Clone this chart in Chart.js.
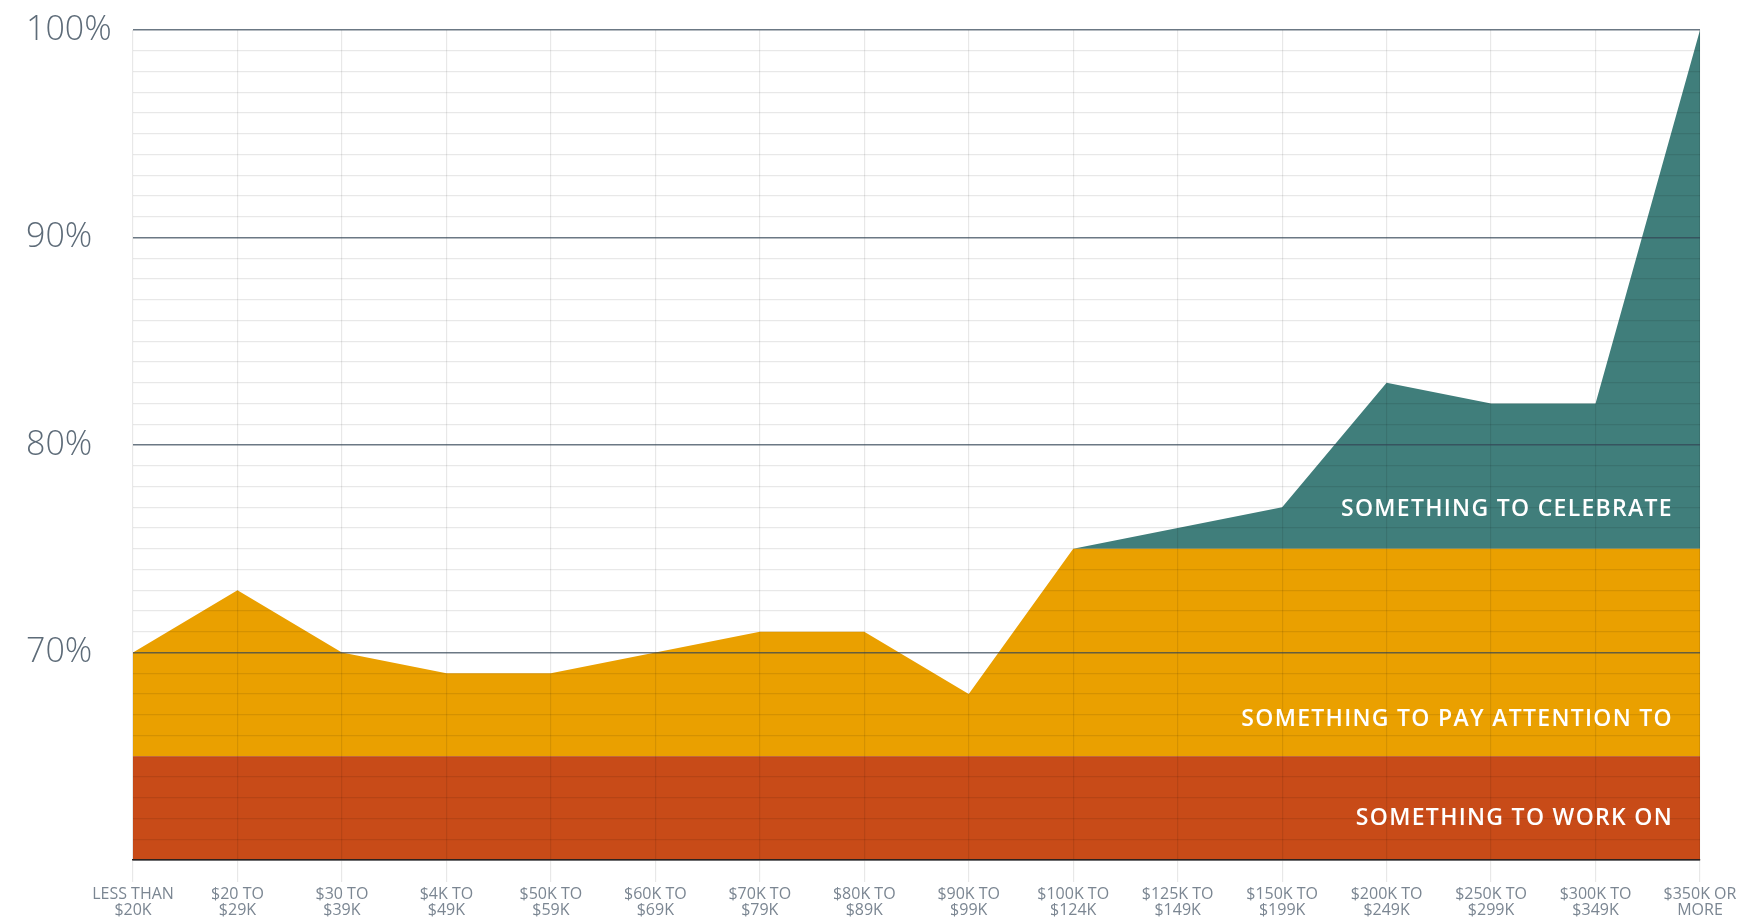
<!DOCTYPE html>
<html>
<head>
<meta charset="utf-8">
<script src="https://cdn.jsdelivr.net/npm/chart.js@4/dist/chart.umd.min.js"></script>
<style>
  html, body { margin: 0; padding: 0; background: #fff; }
  #wrap { width: 1742px; height: 918px; }
</style>
</head>
<body>
<div id="wrap"><canvas id="myChart" width="1742" height="918"></canvas></div>
<script>
const ingresos = [
    ["LESS THAN", "$20K"], ["$20 TO", "$29K"], ["$30 TO", "$39K"], ["$4K TO", "$49K"],
    ["$50K TO", "$59K"], ["$60K TO", "$69K"], ["$70K TO", "$79K"], ["$80K TO", "$89K"],
    ["$90K TO", "$99K"], ["$100K TO", "$124K"], ["$125K TO", "$149K"], ["$150K TO", "$199K"],
    ["$200K TO", "$249K"], ["$250K TO", "$299K"], ["$300K TO", "$349K"], ["$350K OR", "MORE"]
]

// franja inferior fija en 65%
const trabajar = [65, 65, 65, 65, 65, 65, 65, 65, 65, 65, 65, 65, 65, 65, 65, 65]
// puntaje hasta el tope de 75%
const atencion = [70, 73, 70, 69, 69, 70, 71, 71, 68, 75, 75, 75, 75, 75, 75, 75]
// puntaje completo
const celebrar = [70, 73, 70, 69, 69, 70, 71, 71, 68, 75, 76, 77, 83, 82, 82, 100]

const etiquetas = ["SOMETHING TO WORK ON", "SOMETHING TO PAY ATTENTION TO", "SOMETHING TO CELEBRATE"]
const colores = ["#C84B18", "#EAA000", "#407E7B"]

// textos blancos dentro de cada franja, alineados a la derecha
const textoFranjas = {
    id: "textoFranjas",
    afterDraw(chart) {
        const ctx = chart.ctx
        const y = chart.scales.y
        const alturas = [62.0, 66.75, 76.9]
        ctx.save()
        ctx.fillStyle = "#fff"
        ctx.font = "600 23px 'Open Sans'"
        ctx.letterSpacing = "1.3px"
        ctx.textAlign = "right"
        ctx.textBaseline = "middle"
        etiquetas.forEach((texto, i) => {
            ctx.fillText(texto, 1673, y.getPixelForValue(alturas[i]))
        })
        ctx.restore()
    }
}

const datasets = [trabajar, atencion, celebrar].map((serie, i) => {
    return {
        label: etiquetas[i],
        data: serie,
        backgroundColor: colores[i],
        borderWidth: 0,
        pointRadius: 0,
        tension: 0,
        fill: i == 0 ? "start" : "-1"
    }
})

const config = {
    type: "line",
    data: {
        labels: ingresos,
        datasets: datasets
    },
    plugins: [textoFranjas],
    options: {
        responsive: false,
        animation: false,
        layout: {
            padding: { top: 30, left: 26, right: 42, bottom: 0 }
        },
        plugins: {
            legend: { display: false },
            tooltip: { enabled: false }
        },
        scales: {
            x: {
                z: 1,
                offset: false,
                grid: {
                    z: 1,
                    color: "rgba(0,0,0,0.09)",
                    tickColor: "rgba(0,0,0,0.09)",
                    tickLength: 22,
                    lineWidth: 1.2
                },
                border: { display: true, color: "#2b2220", width: 1.5, z: 2 },
                ticks: {
                    autoSkip: false,
                    maxRotation: 0,
                    padding: 5,
                    color: "#7b8692",
                    font: { family: "'Open Sans'", size: 16, lineHeight: 0.98 }
                },
                afterFit(scale) { scale.height = 58 }
            },
            y: {
                z: 1,
                min: 60,
                max: 100,
                grid: {
                    z: 1,
                    drawTicks: false,
                    color: (c) => c.tick.value % 10 == 0 ? "rgba(50,68,85,0.72)" : "rgba(0,0,0,0.09)",
                    lineWidth: (c) => c.tick.value % 10 == 0 ? 1.5 : 1.2
                },
                border: { display: false },
                ticks: {
                    stepSize: 1,
                    maxTicksLimit: 60,
                    autoSkip: false,
                    crossAlign: "far",
                    padding: 0,
                    color: "#5d6b78",
                    font: { family: "'Open Sans'", size: 34, weight: 300 },
                    callback: (v) => (v % 10 == 0 && v > 60) ? v + "%" : ""
                },
                afterFit(scale) { scale.width = 107 }
            }
        }
    }
}

new Chart(document.getElementById("myChart"), config)
</script>
</body>
</html>
